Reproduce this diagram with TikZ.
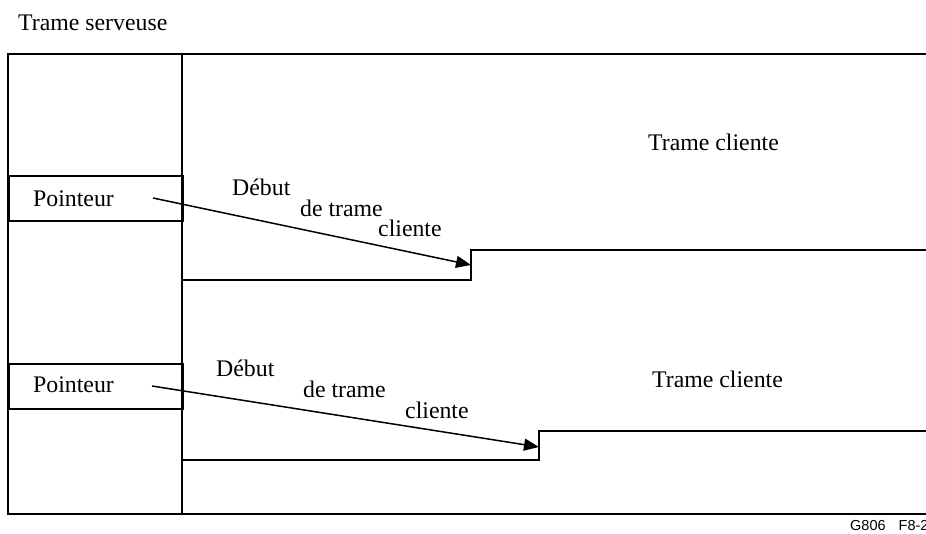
\documentclass[tikz,border=0pt]{standalone}
\usepackage{fontspec}
\setmainfont{Liberation Serif}
\newfontfamily\labelsans{Liberation Sans}
\usetikzlibrary{arrows.meta}
\begin{document}
\begin{tikzpicture}[x=1pt,y=-1pt,
  frameline/.style={line width=2.4pt, line cap=rect},
  sepline/.style={line width=2.8pt},
  ptrbox/.style={draw, line width=2.4pt, minimum width=174pt, minimum height=45pt, inner sep=0pt, anchor=north west},
  lbl/.style={anchor=base west, inner sep=0pt, font=\fontsize{23.8}{26}\selectfont},
  ptrarrow/.style={line width=1.5pt, -{Triangle[length=15pt,width=12pt]}},
  figid/.style={anchor=base west, inner sep=0pt, font=\labelsans\fontsize{14.5}{16}\selectfont}]
\useasboundingbox (0,0) rectangle (926,534);
\begin{scope}
\clip (0,0) rectangle (926,534);
% outer frame
\draw[frameline] (940,54) -- (8,54) -- (8,514) -- (940,514);
\draw[sepline] (182,54) -- (182,514);
% pointer boxes
\node[ptrbox] (box1) at (8,175) {};
\node[ptrbox] (box2) at (8,363) {};
% step lines
\draw[frameline] (182,280) -- (471,280) -- (471,250) -- (940,250);
\draw[frameline] (182,460) -- (539,460) -- (539,431) -- (940,431);
% labels
\node[lbl] (ts) at (18,31) {Trame serveuse};
\node[lbl] (p1) at (33,207) {Pointeur};
\node[lbl] (p2) at (33,392) {Pointeur};
\node[lbl] (d1) at (232,196) {Début};
\node[lbl] (t1) at (300,217) {de trame};
\node[lbl] (c1) at (378,237) {cliente};
\node[lbl] (d2) at (216,377) {Début};
\node[lbl] (t2) at (303,397) {de trame};
\node[lbl] (c2) at (405,418) {cliente};
\node[lbl] (tc1) at (648,151) {Trame cliente};
\node[lbl] (tc2) at (652,388) {Trame cliente};
\node[figid] (fid) at (850,530) {G806\hspace{13pt}F8-2};
% arrows
\coordinate (a1s) at (153,198);
\coordinate (a1e) at (471,265);
\coordinate (a2s) at (152,386);
\coordinate (a2e) at (539,447);
\draw[ptrarrow] (a1s) -- (a1e);
\draw[ptrarrow] (a2s) -- (a2e);
\end{scope}
\end{tikzpicture}
\end{document}
